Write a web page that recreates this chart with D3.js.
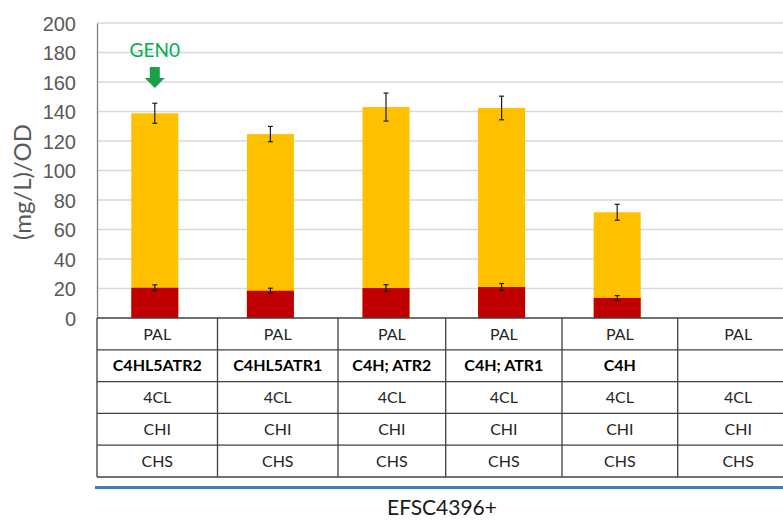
<!DOCTYPE html>
<html>
<head>
<meta charset="utf-8">
<script src="https://cdn.jsdelivr.net/npm/d3@7"></script>
<style>
  body { margin: 0; background: #fff; }
  svg { display: block; font-family: Lato, "Open Sans", sans-serif; }
</style>
</head>
<body>
<div id="chart"></div>
<script>
// data
var categories = ["s1", "s2", "s3", "s4", "s5", "s6"];
var totalValues = [138.8, 124.7, 143.0, 142.4, 71.7, null];
var totalErrors = [6.8, 5.2, 9.5, 8.0, 5.4, null];
var redValues = [20.5, 18.5, 20.3, 21.0, 13.6, null];
var redErrors = [2.0, 1.7, 2.3, 2.4, 1.6, null];
var yTicks = [0, 20, 40, 60, 80, 100, 120, 140, 160, 180, 200];

// table rows under the chart
var rowPAL = ["PAL", "PAL", "PAL", "PAL", "PAL", "PAL"];
var rowC4H = ["C4HL5ATR2", "C4HL5ATR1", "C4H; ATR2", "C4H; ATR1", "C4H", ""];
var row4CL = ["4CL", "4CL", "4CL", "4CL", "4CL", "4CL"];
var rowCHI = ["CHI", "CHI", "CHI", "CHI", "CHI", "CHI"];
var rowCHS = ["CHS", "CHS", "CHS", "CHS", "CHS", "CHS"];
var tableRows = [rowPAL, rowC4H, row4CL, rowCHI, rowCHS];
var boldRow = 1;

var w = 783, h = 520;
var margin = { top: 23, left: 97 };
var plotBottom = 318;
var step = 115.6, barW = 47;
var rowH = 31.8;
// table column widths (layout)
var colW = [120.5, 120.5, 107.7, 116.3, 115.7, 121];

var svg = d3.select("#chart").append("svg")
    .attr("width", w)
    .attr("height", h);

var x = d3.scaleBand()
    .domain(categories)
    .range([margin.left, margin.left + step * categories.length]);

var y = d3.scaleLinear()
    .domain([0, 200])
    .range([plotBottom, margin.top]);

// gridlines
svg.append("g")
    .selectAll("line")
    .data(yTicks.filter(function (d) { return d > 0; }))
    .enter().append("line")
    .attr("x1", margin.left)
    .attr("x2", w)
    .attr("y1", function (d) { return y(d); })
    .attr("y2", function (d) { return y(d); })
    .attr("stroke", "#d9d9d9")
    .attr("stroke-width", 1.3);

// y axis
var yAxis = svg.append("g")
    .attr("transform", "translate(" + margin.left + ",0)")
    .call(d3.axisLeft(y).tickValues(yTicks).tickSize(0).tickPadding(21));
yAxis.select(".domain").attr("stroke", "#7f7f7f").attr("stroke-width", 1.3);
yAxis.selectAll("text")
    .attr("fill", "#595959")
    .style("font-size", "20px")
    .attr("dy", "0.36em");

svg.append("text")
    .attr("transform", "translate(31,182) rotate(-90)")
    .attr("text-anchor", "middle")
    .attr("fill", "#595959")
    .style("font-size", "24px")
    .text("(mg/L)/OD");

function cx(i) {
    return x(categories[i]) + x.bandwidth() / 2;
}

var idx = d3.range(categories.length).filter(function (i) { return totalValues[i] != null; });

// yellow totals
svg.append("g").selectAll("rect")
    .data(idx)
    .enter().append("rect")
    .attr("x", function (i) { return cx(i) - barW / 2; })
    .attr("y", function (i) { return y(totalValues[i]); })
    .attr("width", barW)
    .attr("height", function (i) { return plotBottom - y(totalValues[i]); })
    .attr("fill", "#ffc000");

// red part
svg.append("g").selectAll("rect")
    .data(idx)
    .enter().append("rect")
    .attr("x", function (i) { return cx(i) - barW / 2; })
    .attr("y", function (i) { return y(redValues[i]); })
    .attr("width", barW)
    .attr("height", function (i) { return plotBottom - y(redValues[i]); })
    .attr("fill", "#c00000");

// error bars
function errorBars(vals, errs) {
    var g = svg.append("g").attr("stroke", "#1a1a1a").attr("stroke-width", 1.2);
    idx.forEach(function (i) {
        var c = cx(i), t = y(vals[i] + errs[i]), b = y(vals[i] - errs[i]);
        g.append("line").attr("x1", c).attr("x2", c).attr("y1", t).attr("y2", b);
        g.append("line").attr("x1", c - 2.5).attr("x2", c + 2.5).attr("y1", t).attr("y2", t);
        g.append("line").attr("x1", c - 2.5).attr("x2", c + 2.5).attr("y1", b).attr("y2", b);
    });
}
errorBars(totalValues, totalErrors);
errorBars(redValues, redErrors);

// GEN0 annotation
var ax = cx(0);
svg.append("text")
    .attr("x", ax)
    .attr("y", 57)
    .attr("text-anchor", "middle")
    .attr("fill", "#00b050")
    .style("font-size", "19px")
    .text("GEN0");
svg.append("path")
    .attr("d", "M" + (ax - 5) + ",67 h10 v11 h5 l-10,10 l-10,-10 h5 z")
    .attr("fill", "#1aa048");

// data table
var edges = [margin.left];
colW.forEach(function (cw) { edges.push(edges[edges.length - 1] + cw); });
var tbl = svg.append("g");
tableRows.forEach(function (row, r) {
    row.forEach(function (label, c) {
        tbl.append("text")
            .attr("x", (edges[c] + edges[c + 1]) / 2)
            .attr("y", plotBottom + rowH * r + rowH / 2)
            .attr("dy", "0.36em")
            .attr("text-anchor", "middle")
            .attr("fill", r === boldRow ? "#000" : "#262626")
            .style("font-size", "16px")
            .style("font-weight", r === boldRow ? "bold" : "normal")
            .text(label);
    });
});
var tableBottom = plotBottom + rowH * tableRows.length;
d3.range(tableRows.length + 1).forEach(function (r) {
    tbl.append("line")
        .attr("x1", margin.left).attr("x2", w)
        .attr("y1", plotBottom + rowH * r).attr("y2", plotBottom + rowH * r)
        .attr("stroke", "#404040").attr("stroke-width", 1.3);
});
edges.forEach(function (ex) {
    tbl.append("line")
        .attr("x1", ex).attr("x2", ex)
        .attr("y1", plotBottom).attr("y2", tableBottom)
        .attr("stroke", "#404040").attr("stroke-width", 1.3);
});

// group line and label
svg.append("line")
    .attr("x1", 95).attr("x2", w)
    .attr("y1", 487.5).attr("y2", 487.5)
    .attr("stroke", "#3a7cc4").attr("stroke-width", 3);
svg.append("text")
    .attr("x", 442)
    .attr("y", 515)
    .attr("text-anchor", "middle")
    .attr("fill", "#1a1a1a")
    .style("font-size", "21px")
    .text("EFSC4396+");
</script>
</body>
</html>
